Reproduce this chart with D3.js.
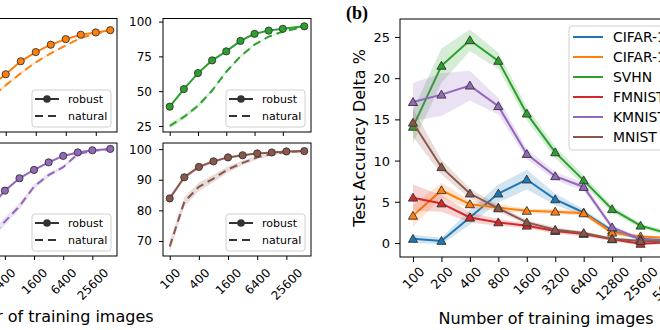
<!DOCTYPE html>
<html>
<head>
<meta charset="utf-8">
<script src="https://cdn.jsdelivr.net/npm/d3@7"></script>
<style>
  body { margin: 0; background: #fff; }
  svg { display: block; font-family: "DejaVu Sans", sans-serif; }
</style>
</head>
<body>
<svg id="fig" width="660" height="330"></svg>
<script>
// ---------------- data ----------------
// (a) accuracy curves, robust vs natural training
const sizesCifar100 = [100, 200, 400, 800, 1600, 3200, 6400, 12800, 25600, 50000];
const sizesSvhn     = [100, 200, 400, 800, 1600, 3200, 6400, 12800, 25600, 73257];
const sizesKmnist   = [100, 200, 400, 800, 1600, 3200, 6400, 12800, 25600, 60000];
const sizesMnist    = [100, 200, 400, 800, 1600, 3200, 6400, 12800, 25600, 60000];

const cifar100Robust  = [31.6, 40.4, 50.9, 62.3, 70.4, 76.9, 81.8, 85.7, 87.7, 89.7];
const cifar100Natural = [17.5, 29.8, 41.2, 51.8, 61.4, 69.3, 76.3, 82.9, 86.8, 89.0];
const svhnRobust      = [38.9, 51.5, 63.0, 72.1, 78.6, 86.1, 91.2, 93.5, 94.8, 96.6];
const svhnNatural     = [25.0, 31.5, 39.5, 50.5, 64.0, 75.0, 83.4, 89.2, 92.8, 96.2];
const kmnistRobust    = [70.0, 78.0, 84.3, 88.9, 92.0, 94.8, 97.2, 98.5, 99.3, 99.8];
const kmnistNatural   = [62.0, 67.0, 72.8, 78.5, 85.8, 90.1, 93.0, 97.9, 99.1, 99.7];
const mnistRobust     = [83.9, 90.8, 94.2, 96.0, 97.3, 98.0, 98.6, 98.9, 99.25, 99.35];
const mnistNatural    = [68.2, 82.8, 87.7, 90.4, 93.4, 95.5, 97.3, 98.4, 99.0, 99.35];

const robustSpread  = [0.8, 0.7, 0.6, 0.5, 0.4, 0.4, 0.3, 0.3, 0.2, 0.2];
const naturalSpread = [1.8, 1.6, 1.4, 1.2, 1.0, 0.8, 0.6, 0.5, 0.4, 0.3];

// (b) accuracy delta (robust - natural)
const sizeLabels = ["100", "200", "400", "800", "1600", "3200", "6400", "12800", "25600", "50000"];
const datasetNames = ["CIFAR-10", "CIFAR-100", "SVHN", "FMNIST", "KMNIST", "MNIST"];

const deltaCifar10  = [0.5, 0.25, 3.1, 6.0, 7.7, 5.3, 3.7, 1.5, 0.5, 0.3];
const deltaCifar100 = [3.3, 6.4, 4.7, 4.3, 3.9, 3.8, 3.6, 1.25, 0.8, 0.6];
const deltaSvhn     = [14.1, 21.5, 24.6, 22.1, 15.7, 11.0, 7.6, 4.1, 2.1, 1.1];
const deltaFmnist   = [5.5, 4.8, 3.1, 2.5, 2.1, 1.45, 1.1, 0.45, -0.1, 0.1];
const deltaKmnist   = [17.1, 18.0, 19.1, 16.6, 10.8, 8.1, 6.8, 1.9, 0.45, 0.2];
const deltaMnist    = [14.6, 9.2, 6.0, 4.2, 2.5, 1.6, 1.2, 0.5, 0.25, 0.1];

const spreadCifar10  = [0.5, 0.4, 0.9, 1.1, 1.2, 0.7, 0.4, 0.3, 0.2, 0.2];
const spreadCifar100 = [1.3, 0.9, 0.5, 0.4, 0.3, 0.3, 0.3, 0.3, 0.2, 0.2];
const spreadSvhn     = [2.0, 2.1, 1.3, 1.0, 0.8, 0.7, 0.6, 0.4, 0.3, 0.3];
const spreadFmnist   = [1.6, 1.0, 0.6, 0.4, 0.3, 0.3, 0.3, 0.2, 0.2, 0.2];
const spreadKmnist   = [2.3, 2.6, 1.8, 1.0, 0.6, 0.5, 0.5, 0.3, 0.2, 0.2];
const spreadMnist    = [1.7, 0.9, 0.6, 0.4, 0.3, 0.3, 0.2, 0.2, 0.2, 0.2];

const curveTicks = [100, 400, 1600, 6400, 25600];

// ---------------- style ----------------
const C = { blue: "#1f77b4", orange: "#ff7f0e", green: "#2ca02c", red: "#d62728", purple: "#9467bd", brown: "#8c564b" };
const edge = "#333";

const svg = d3.select("#fig");
let clipCount = 0;
function addClip(x0, y0, x1, y1) {
  const id = "clip" + (clipCount++);
  svg.append("clipPath").attr("id", id)
    .append("rect").attr("x", x0).attr("y", y0).attr("width", x1 - x0).attr("height", y1 - y0);
  return "url(#" + id + ")";
}

function rotateLabels(axisG, tickLen, pad, fontSize) {
  axisG.selectAll(".tick text").each(function () {
    const w = this.getComputedTextLength();
    const h = fontSize * 1.15;
    const half = (w + h) * Math.SQRT1_2 / 2;
    d3.select(this)
      .attr("y", null).attr("dy", null)
      .attr("dominant-baseline", "central")
      .attr("text-anchor", "middle")
      .attr("transform", `translate(0,${tickLen + pad + half}) rotate(-45)`);
  });
}

function styleAxis(g, fontSize) {
  g.select(".domain").remove();
  g.selectAll(".tick line").attr("stroke", "#000").attr("stroke-width", 1);
  g.selectAll(".tick text").attr("fill", "#000").attr("font-size", fontSize)
    .attr("font-family", "DejaVu Sans");
}

// ---------------- (a) panels ----------------
function curvePanel(o) {
  const lo = o.sizes[0], hi = o.sizes[o.sizes.length - 1];
  const m = Math.pow(hi / lo, 0.05);
  const x = d3.scaleLog().domain([lo / m, hi * m]).range([o.left, o.right]);
  const y = d3.scaleLinear().domain(o.yDomain).range([o.bottom, o.top]);
  const g = svg.append("g");
  const plot = g.append("g").attr("clip-path", addClip(o.left, o.top, o.right, o.bottom));

  const band = (vals, spr) => d3.area()
    .x((d, i) => x(o.sizes[i]))
    .y0((d, i) => y(vals[i] - spr[i]))
    .y1((d, i) => y(vals[i] + spr[i]))(vals);
  const line = vals => d3.line().x((d, i) => x(o.sizes[i])).y(d => y(d))(vals);

  plot.append("path").attr("d", band(o.natural, naturalSpread)).attr("fill", o.color).attr("opacity", 0.2);
  plot.append("path").attr("d", band(o.robust, robustSpread)).attr("fill", o.color).attr("opacity", 0.2);
  plot.append("path").attr("d", line(o.natural)).attr("fill", "none").attr("stroke", o.color)
    .attr("stroke-width", 2).attr("stroke-dasharray", "8,5");
  plot.append("path").attr("d", line(o.robust)).attr("fill", "none").attr("stroke", o.color)
    .attr("stroke-width", 2);
  plot.selectAll("circle.pt").data(o.robust).join("circle")
    .attr("cx", (d, i) => x(o.sizes[i])).attr("cy", d => y(d)).attr("r", 3.6)
    .attr("fill", o.color).attr("stroke", edge).attr("stroke-width", 0.9);

  // axes
  const ax = g.append("g").attr("transform", `translate(0,${o.bottom})`)
    .call(d3.axisBottom(x).tickValues(curveTicks).tickSize(4).tickPadding(3)
      .tickFormat(o.xLabels ? d3.format("d") : () => ""));
  styleAxis(ax, 12);
  if (o.xLabels) rotateLabels(ax, 4, 6, 12);
  // the left column's tick labels sit beyond the page's left edge, so only its tick marks are kept
  const ay = g.append("g").attr("transform", `translate(${o.left},0)`)
    .call(d3.axisLeft(y).tickValues(o.yTicks).tickSize(4).tickPadding(7)
      .tickFormat(o.yLabels ? d3.format("d") : () => ""));
  styleAxis(ay, 12);
  ay.selectAll(".tick text").attr("dy", null).attr("dominant-baseline", "central");
  g.append("rect").attr("x", o.left).attr("y", o.top).attr("width", o.right - o.left)
    .attr("height", o.bottom - o.top).attr("fill", "none").attr("stroke", "#000").attr("stroke-width", 1);

  // legend
  const lx = o.right - 85, ly = o.bottom - 42;
  const lg = g.append("g").attr("transform", `translate(${lx},${ly})`);
  lg.append("rect").attr("width", 79).attr("height", 37).attr("rx", 3)
    .attr("fill", "#fff").attr("fill-opacity", 0.8).attr("stroke", "#d0d0d0").attr("stroke-width", 1);
  lg.append("line").attr("x1", 3).attr("x2", 27).attr("y1", 9).attr("y2", 9)
    .attr("stroke", edge).attr("stroke-width", 2);
  lg.append("circle").attr("cx", 15).attr("cy", 9).attr("r", 3.8).attr("fill", edge);
  lg.append("line").attr("x1", 3).attr("x2", 27).attr("y1", 26).attr("y2", 26)
    .attr("stroke", edge).attr("stroke-width", 2).attr("stroke-dasharray", "8,5");
  lg.append("text").attr("x", 36).attr("y", 9).attr("dominant-baseline", "central")
    .attr("font-size", 11).text("robust");
  lg.append("text").attr("x", 36).attr("y", 26).attr("dominant-baseline", "central")
    .attr("font-size", 11).text("natural");
}

const colL = [-31, 117], colR = [163, 311];
const rowT = [18.5, 132], rowB = [143, 256];

curvePanel({ left: colL[0], right: colL[1], top: rowT[0], bottom: rowT[1], sizes: sizesCifar100,
  robust: cifar100Robust, natural: cifar100Natural, color: C.orange,
  yDomain: [0, 100], yTicks: [25, 50, 75, 100], xLabels: false, yLabels: false });
curvePanel({ left: colR[0], right: colR[1], top: rowT[0], bottom: rowT[1], sizes: sizesSvhn,
  robust: svhnRobust, natural: svhnNatural, color: C.green,
  yDomain: [20.7, 102.2], yTicks: [25, 50, 75, 100], xLabels: false, yLabels: true });
curvePanel({ left: colL[0], right: colL[1], top: rowB[0], bottom: rowB[1], sizes: sizesKmnist,
  robust: kmnistRobust, natural: kmnistNatural, color: C.purple,
  yDomain: [60, 102], yTicks: [60, 70, 80, 90, 100], xLabels: true, yLabels: false });
curvePanel({ left: colR[0], right: colR[1], top: rowB[0], bottom: rowB[1], sizes: sizesMnist,
  robust: mnistRobust, natural: mnistNatural, color: C.brown,
  yDomain: [65.1, 102], yTicks: [70, 80, 90, 100], xLabels: true, yLabels: true });

svg.append("text").attr("x", 46).attr("y", 322).attr("text-anchor", "middle")
  .attr("font-size", 16).text("Number of training images");

// ---------------- (b) delta panel ----------------
(function () {
  const left = 400, right = 682, top = 19, bottom = 257;
  const x = d3.scalePoint().domain(sizeLabels).range([left, right]).padding(0.457);
  const y = d3.scaleLinear().domain([-1.7, 27.18]).range([bottom, top]);
  const series = [
    { name: datasetNames[0], vals: deltaCifar10,  spr: spreadCifar10,  color: C.blue },
    { name: datasetNames[1], vals: deltaCifar100, spr: spreadCifar100, color: C.orange },
    { name: datasetNames[2], vals: deltaSvhn,     spr: spreadSvhn,     color: C.green },
    { name: datasetNames[3], vals: deltaFmnist,   spr: spreadFmnist,   color: C.red },
    { name: datasetNames[4], vals: deltaKmnist,   spr: spreadKmnist,   color: C.purple },
    { name: datasetNames[5], vals: deltaMnist,    spr: spreadMnist,    color: C.brown }
  ];
  const g = svg.append("g");
  const plot = g.append("g").attr("clip-path", addClip(left, top, right, bottom));
  const tri = d3.symbol().type(d3.symbolTriangle).size(36);

  series.forEach(s => {
    const sg = plot.append("g");
    sg.append("path")
      .attr("d", d3.area().x((d, i) => x(sizeLabels[i]))
        .y0((d, i) => y(s.vals[i] - s.spr[i])).y1((d, i) => y(s.vals[i] + s.spr[i]))(s.vals))
      .attr("fill", s.color).attr("opacity", 0.2);
    sg.append("path")
      .attr("d", d3.line().x((d, i) => x(sizeLabels[i])).y(d => y(d))(s.vals))
      .attr("fill", "none").attr("stroke", s.color).attr("stroke-width", 2);
    sg.selectAll("path.m").data(s.vals).join("path").attr("class", "m")
      .attr("d", tri)
      .attr("transform", (d, i) => `translate(${x(sizeLabels[i])},${y(d) + 0.8})`)
      .attr("fill", s.color).attr("stroke", edge).attr("stroke-width", 0.9);
  });

  const ax = g.append("g").attr("transform", `translate(0,${bottom})`)
    .call(d3.axisBottom(x).tickSize(5).tickPadding(3));
  styleAxis(ax, 13);
  rotateLabels(ax, 5, 2, 13);
  const ay = g.append("g").attr("transform", `translate(${left},0)`)
    .call(d3.axisLeft(y).tickValues([0, 5, 10, 15, 20, 25]).tickSize(5).tickPadding(5));
  styleAxis(ay, 13);
  ay.selectAll(".tick text").attr("dy", null).attr("dominant-baseline", "central");
  g.append("rect").attr("x", left).attr("y", top).attr("width", right - left)
    .attr("height", bottom - top).attr("fill", "none").attr("stroke", "#000").attr("stroke-width", 1);

  // legend
  const lg = g.append("g").attr("transform", "translate(569,26)");
  lg.append("rect").attr("width", 120).attr("height", 124).attr("rx", 3)
    .attr("fill", "#fff").attr("fill-opacity", 0.8).attr("stroke", "#d0d0d0").attr("stroke-width", 1);
  series.forEach((s, i) => {
    const yy = 11 + 20 * i;
    lg.append("line").attr("x1", 4).attr("x2", 34).attr("y1", yy).attr("y2", yy)
      .attr("stroke", s.color).attr("stroke-width", 2);
    lg.append("text").attr("x", 44).attr("y", yy).attr("dominant-baseline", "central")
      .attr("font-size", 13.9).text(s.name);
  });

  svg.append("text").attr("transform", "translate(365,138) rotate(-90)").attr("text-anchor", "middle")
    .attr("font-size", 16).text("Test Accuracy Delta %");
  svg.append("text").attr("x", 546).attr("y", 324).attr("text-anchor", "middle")
    .attr("font-size", 16).text("Number of training images");
  svg.append("text").attr("x", 346).attr("y", 19).attr("font-family", "Liberation Serif")
    .attr("font-weight", "bold").attr("font-size", 18).text("(b)");
})();
</script>
</body>
</html>
